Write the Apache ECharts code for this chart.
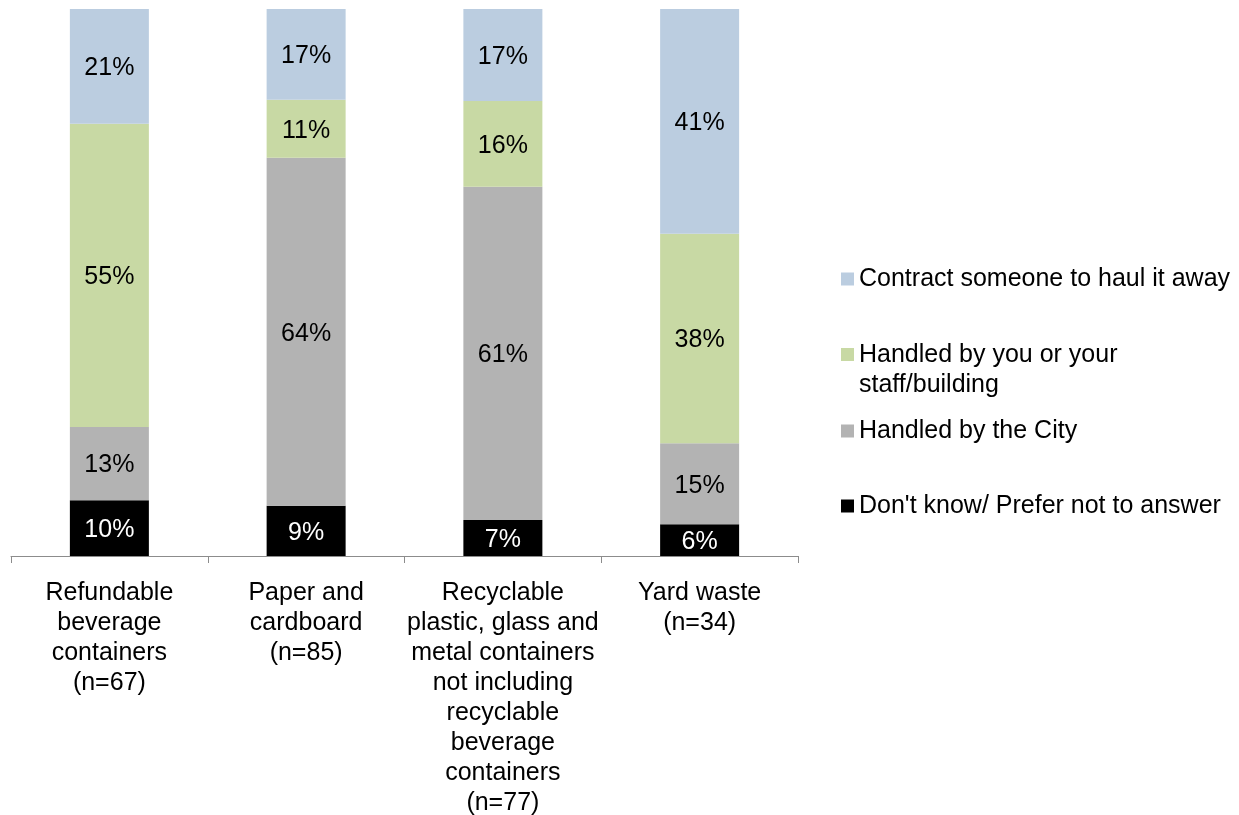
<!DOCTYPE html>
<html>
<head>
<meta charset="utf-8">
<script src="https://cdn.jsdelivr.net/npm/echarts@6/dist/echarts.min.js"></script>
<style>
  html, body { margin: 0; padding: 0; background: #ffffff; }
  #chart { width: 1239px; height: 815px; }
</style>
</head>
<body>
<div id="chart"></div>
<script>
// Categories (x-axis labels)
const categories = [
  "Refundable\nbeverage\ncontainers\n(n=67)",
  "Paper and\ncardboard\n(n=85)",
  "Recyclable\nplastic, glass and\nmetal containers\nnot including\nrecyclable\nbeverage\ncontainers\n(n=77)",
  "Yard waste\n(n=34)"
];

// Series names
const seriesNames = [
  "Don't know/ Prefer not to answer",
  "Handled by the City",
  "Handled by you or your\nstaff/building",
  "Contract someone to haul it away"
];

// Series values (percent)
const dontKnow  = [10.2, 9.2, 6.6, 5.8];
const byCity    = [13.4, 63.6, 60.9, 14.8];
const byYou     = [55.4, 10.6, 15.7, 38.3];
const contract  = [21.0, 16.6, 16.8, 41.1];

const seriesValues = [dontKnow, byCity, byYou, contract];
const seriesColors = ["#000000", "#B3B3B3", "#C8D9A4", "#BBCDE0"];
const labelColors  = ["#ffffff", "#000000", "#000000", "#000000"];

const FONT = "'Liberation Sans', Arial, sans-serif";

const chart = echarts.init(document.getElementById('chart'));

const series = seriesNames.map((name, i) => ({
  name: name,
  type: 'bar',
  stack: 'total',
  barWidth: 79,
  data: seriesValues[i],
  itemStyle: { color: seriesColors[i] },
  label: {
    show: true,
    position: 'inside',
    offset: [0, 2],
    color: labelColors[i],
    fontFamily: FONT,
    fontSize: 25,
    formatter: p => Math.round(p.value) + '%'
  },
  emphasis: { disabled: true }
}));

function legendFor(name, top, icon, itemHeight) {
  return {
    data: [name],
    left: 841,
    top: top,
    padding: 0,
    orient: 'vertical',
    selectedMode: false,
    itemWidth: 13,
    itemHeight: itemHeight,
    icon: icon,
    textStyle: {
      fontFamily: FONT,
      fontSize: 25,
      lineHeight: 30,
      color: '#000000'
    }
  };
}

const option = {
  animation: false,
  backgroundColor: '#ffffff',
  grid: { left: 11, right: 441, top: 9, bottom: 259, containLabel: false, outerBoundsMode: 'none' },
  xAxis: {
    type: 'category',
    data: categories,
    axisLine: { show: true, lineStyle: { color: '#8C8C8C', width: 1 } },
    axisTick: { show: true, length: 7, lineStyle: { color: '#8C8C8C' } },
    axisLabel: {
      interval: 0,
      margin: 22,
      color: '#000000',
      fontFamily: FONT,
      fontSize: 25,
      lineHeight: 30,
      align: 'center'
    }
  },
  yAxis: { type: 'value', min: 0, max: 100, show: false },
  legend: [
    legendFor(seriesNames[3], 264, 'rect', 13),
    legendFor(seriesNames[2], 340, 'path://M0,0L13,0L13,13L0,13Z M0,44L0.01,44', 44),
    legendFor(seriesNames[1], 416, 'rect', 13),
    legendFor(seriesNames[0], 491, 'rect', 13)
  ],
  series: series
};

chart.setOption(option);
</script>
</body>
</html>
